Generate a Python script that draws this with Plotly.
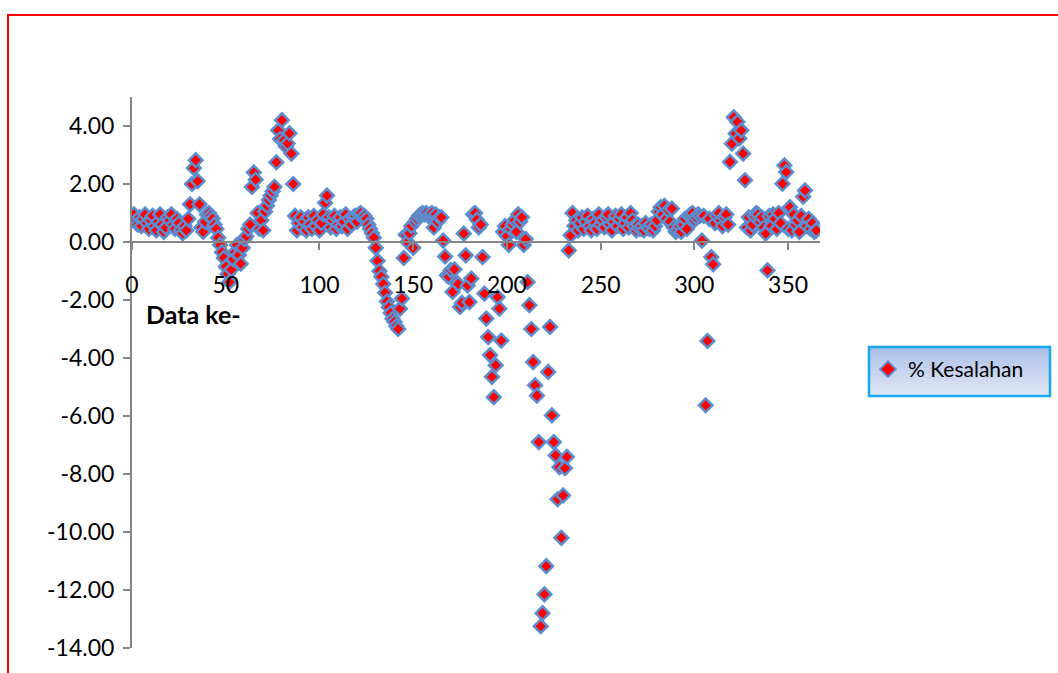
import plotly.graph_objects as go

# Error percentage per data index (1..365)
persen_kesalahan = [
    0.95, 0.70, 0.60, 0.85, 0.55, 0.80, 0.95, 0.65, 0.45, 0.75,
    0.90, 0.55, 0.40, 0.70, 0.95, 0.60, 0.35, 0.50, 0.85, 0.75,
    0.95, 0.60, 0.45, 0.80, 0.65, 0.40, 0.30, 0.55, 0.40, 0.80,
    1.30, 2.00, 2.55, 2.82, 2.10, 1.30, 0.50, 0.35, 0.70, 0.95,
    1.00, 0.90, 0.80, 0.60, 0.45, 0.15, -0.10, -0.35, -0.55, -0.85,
    -1.10, -1.38, -0.95, -0.60, -0.35, -0.10, -0.45, -0.75, -0.20, 0.10,
    0.20, 0.45, 0.60, 1.90, 2.40, 2.15, 1.00, 0.45, 0.75, 0.40,
    1.05, 1.25, 1.45, 1.60, 1.75, 1.90, 2.75, 3.85, 3.55, 4.20,
    3.50, 3.30, 3.40, 3.75, 3.05, 2.00, 0.90, 0.40, 0.65, 0.85,
    0.50, 0.70, 0.40, 0.85, 0.60, 0.45, 0.90, 0.55, 0.75, 0.40,
    0.65, 0.95, 1.35, 1.60, 0.85, 0.50, 0.75, 0.90, 0.45, 0.60,
    0.85, 0.55, 0.70, 0.95, 0.45, 0.80, 0.60, 0.85, 0.90, 0.70,
    0.95, 1.00, 0.85, 0.90, 0.80, 0.60, 0.45, 0.30, 0.15, -0.20,
    -0.65, -1.00, -1.20, -1.45, -1.75, -2.05, -2.25, -2.45, -2.65, -2.75,
    -2.90, -3.00, -2.30, -1.95, -0.55, 0.25, 0.00, 0.30, 0.55, -0.20,
    0.70, 0.80, 0.90, 0.95, 1.00, 0.95, 1.00, 0.90, 0.95, 1.00,
    0.50, 0.95, 0.70, 0.85, 0.85, 0.05, -0.50, -1.15, -1.20, -0.97,
    -1.72, -0.94, -1.38, -1.45, -2.24, -2.10, 0.29, -0.46, -1.50, -2.07,
    -1.26, 0.95, 1.00, 0.77, 0.50, 0.60, -0.52, -1.78, -2.64, -3.28,
    -3.90, -4.65, -5.35, -4.25, -1.90, -2.30, -3.40, 0.35, 0.55, 0.20,
    -0.10, 0.45, 0.60, 0.75, 0.35, 0.95, 0.70, 0.85, -0.10, 0.10,
    -1.38, -2.18, -3.00, -4.14, -4.94, -5.30, -6.90, -13.25, -12.80, -12.15,
    -11.18, -4.48, -2.93, -5.98, -6.90, -7.36, -8.87, -7.76, -10.20, -8.74,
    -7.80, -7.41, -0.29, 0.23, 1.00, 0.55, 0.75, 0.40, 0.65, 0.85,
    0.45, 0.70, 0.90, 0.55, 0.40, 0.80, 0.65, 0.45, 0.95, 0.60,
    0.75, 0.50, 0.85, 0.95, 0.60, 0.40, 0.70, 0.90, 0.55, 0.80,
    0.95, 0.45, 0.65, 0.85, 0.50, 1.00, 0.75, 0.55, 0.40, 0.60,
    0.45, 0.55, 0.40, 0.65, 0.50, 0.45, 0.60, 0.40, 0.55, 0.75,
    1.05, 1.20, 0.95, 1.25, 0.80, 1.10, 0.70, 1.15, 0.50, 0.35,
    0.40, 0.55, 0.35, 0.60, 0.80, 0.45, 0.90, 0.95, 1.00, 0.75,
    0.85, 0.95, 0.90, 0.05, 0.90, -5.63, -3.41, 0.80, -0.52, -0.77,
    0.65, 0.90, 1.00, 0.75, 0.55, 0.85, 0.95, 0.60, 2.76, 3.39,
    4.30, 3.74, 4.14, 3.57, 3.85, 3.05, 2.13, 0.50, 0.85, 0.40,
    0.60, 0.90, 1.00, 0.95, 0.70, 0.85, 0.50, 0.29, -0.98, 0.90,
    0.55, 0.95, 0.80, 0.45, 1.00, 0.65, 2.01, 2.64, 2.41, 0.45,
    1.20, 0.40, 0.95, 0.60, 0.75, 0.35, 0.90, 1.56, 1.78, 0.55,
    0.80, 0.45, 0.65, 0.35, 0.40,
]
data_ke = list(range(1, len(persen_kesalahan) + 1))

x_tick_vals = [0, 50, 100, 150, 200, 250, 300, 350]
x_tick_text = ["0", "50", "100", "150", "200", "250", "300", "350"]
y_tick_vals = [4, 2, 0, -2, -4, -6, -8, -10, -12, -14]
y_tick_text = ["4.00", "2.00", "0.00", "-2.00", "-4.00", "-6.00",
               "-8.00", "-10.00", "-12.00", "-14.00"]

X_RANGE = [0, 367]
Y_RANGE = [-14, 5]

W, H = 1058, 673
L, R, T, B = 132, 238, 97, 25
PW, PH = W - L - R, H - T - B


def px_x(px):
    return (px - L) / PW


def px_y(py):
    return (H - B - py) / PH


FONT = "Lato, 'Open Sans', sans-serif"
AXIS_GREY = "#868686"

fig = go.Figure()
fig.add_trace(go.Scatter(
    x=data_ke,
    y=persen_kesalahan,
    mode="markers",
    name="% Kesalahan",
    marker=dict(symbol="diamond", size=10.5, color="#FF0000",
                line=dict(color="#5B8ED0", width=2.5)),
))

shapes = []
# legend box with a vertical gradient fill
lx0, lx1, ly0, ly1 = 869, 1050, 347, 396
top_rgb, bot_rgb = (172, 192, 232), (224, 231, 245)
steps = 14
for i in range(steps):
    t = i / (steps - 1)
    c = tuple(round(a + (b - a) * t) for a, b in zip(top_rgb, bot_rgb))
    ya = ly0 + (ly1 - ly0) * i / steps
    yb = ly0 + (ly1 - ly0) * (i + 1) / steps
    shapes.append(dict(type="rect", xref="paper", yref="paper",
                       x0=px_x(lx0), x1=px_x(lx1), y0=px_y(ya), y1=px_y(yb + 0.6),
                       line=dict(width=0), fillcolor="rgb(%d,%d,%d)" % c,
                       layer="below"))
shapes.append(dict(type="rect", xref="paper", yref="paper",
                   x0=px_x(lx0), x1=px_x(lx1), y0=px_y(ly0), y1=px_y(ly1),
                   line=dict(color="#14A9EC", width=2.5), fillcolor="rgba(0,0,0,0)"))
# red outer frame of the chart area
shapes.append(dict(type="rect", xref="paper", yref="paper",
                   x0=px_x(8), x1=px_x(1070), y0=px_y(15), y1=px_y(700),
                   line=dict(color="#FF0000", width=2), fillcolor="rgba(0,0,0,0)"))

fig.update_layout(
    width=W, height=H,
    margin=dict(l=L, r=R, t=T, b=B, pad=0),
    paper_bgcolor="white", plot_bgcolor="white",
    font=dict(family=FONT, size=23, color="#000000"),
    showlegend=True,
    legend=dict(x=px_x(868), y=px_y(349), xanchor="left", yanchor="top",
                bgcolor="rgba(0,0,0,0)", borderwidth=0,
                font=dict(family=FONT, size=21, color="#000000"),
                itemsizing="constant"),
    shapes=shapes,
    annotations=[dict(text="<b>Data ke-</b>", xref="paper", yref="paper",
                      x=px_x(144), y=px_y(314), xanchor="left", yanchor="middle",
                      showarrow=False, font=dict(family=FONT, size=25, color="#000000"))],
)

fig.update_xaxes(
    range=X_RANGE, showgrid=False, zeroline=False,
    showline=True, linecolor=AXIS_GREY, linewidth=2,
    ticks="outside", ticklen=7, tickwidth=2, tickcolor=AXIS_GREY,
    tickvals=x_tick_vals, ticktext=x_tick_text,
    anchor="free", position=(0 - Y_RANGE[0]) / (Y_RANGE[1] - Y_RANGE[0]),
    ticklabelstandoff=15,
)
fig.update_yaxes(
    range=Y_RANGE, showgrid=False, zeroline=False,
    showline=True, linecolor=AXIS_GREY, linewidth=2,
    ticks="outside", ticklen=7, tickwidth=2, tickcolor=AXIS_GREY,
    tickvals=y_tick_vals, ticktext=y_tick_text,
    ticklabelstandoff=4,
)

fig.write_html("out.html")
